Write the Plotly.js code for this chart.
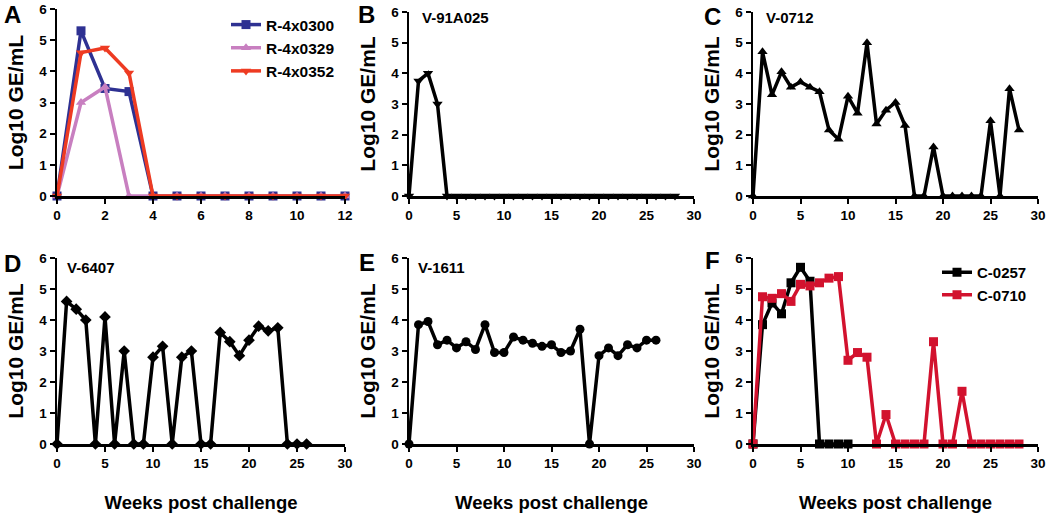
<!DOCTYPE html>
<html>
<head>
<meta charset="utf-8">
<script src="https://cdn.plot.ly/plotly-3.0.1.min.js"></script>
<style>
  body { margin: 0; background: white; }
  #graph { width: 1050px; height: 513px; }
</style>
</head>
<body>
<div id="graph"></div>
<script>
// weeks post challenge
var weeksA = [0,1,2,3,4,5,6,7,8,9,10,11,12];
var weeks28 = [];
for (var i = 0; i <= 28; i++) weeks28.push(i);
var weeks26 = weeks28.slice(0, 27);
var weeks10 = weeks28.slice(0, 11);

// panel A, three rhesus animals
var r0300 = [0,5.3,3.45,3.35,0,0,0,0,0,0,0,0,0];
var r0329 = [0,3.0,3.5,0,0,0,0,0,0,0,0,0,0];
var r0352 = [0,4.6,4.75,3.95,0,0,0,0,0,0,0,0,0];

// panel B
var v91a025 = [0,3.75,4.0,3.0,0,0,0,0,0,0,0,0,0,0,0,0,0,0,0,0,0,0,0,0,0,0,0,0,0];
// panel C
var v0712 = [0,4.7,3.3,4.05,3.55,3.72,3.55,3.4,2.15,1.85,3.25,2.7,5.0,2.35,2.8,3.05,2.3,0,0,1.6,0,0,0,0,0,2.45,0,3.5,2.15];
// panel D
var v6407 = [0,4.6,4.35,4.0,0,4.1,0,3.0,0,0,2.8,3.15,0,2.8,3.0,0,0,3.6,3.3,2.85,3.35,3.8,3.65,3.75,0,0,0];
// panel E
var v1611 = [0,3.85,3.95,3.2,3.35,3.1,3.3,3.05,3.85,2.95,2.95,3.45,3.35,3.25,3.15,3.2,2.95,3.0,3.7,0,2.85,3.1,2.85,3.2,3.1,3.35,3.35];
// panel F, controls
var c0257 = [0,3.85,4.55,4.2,5.2,5.7,5.25,0,0,0,0];
var c0710 = [0,4.75,4.7,4.85,4.6,5.15,5.1,5.2,5.35,5.4,2.7,2.95,2.8,0,0.95,0,0,0,0,3.3,0,0,1.7,0,0,0,0,0,0];

var fnt = 'Liberation Sans, Arial, sans-serif';

function tr(x, y, xa, ya, color, symbol, name, legend) {
  return {
    x: x, y: y, xaxis: xa, yaxis: ya,
    mode: 'lines+markers',
    line: {color: color, width: 3.5},
    marker: {color: color, symbol: symbol, size: 9},
    cliponaxis: false,
    name: name,
    showlegend: !!legend,
    legend: legend || 'legend'
  };
}

var data = [
  tr(weeksA, r0300, 'x', 'y', '#2e3192', 'square', 'R-4x0300', 'legend'),
  tr(weeksA, r0329, 'x', 'y', '#c87fc0', 'triangle-up', 'R-4x0329', 'legend'),
  tr(weeksA, r0352, 'x', 'y', '#ee3b22', 'triangle-down', 'R-4x0352', 'legend'),
  tr(weeks28, v91a025, 'x2', 'y2', '#000', 'triangle-down', 'V-91A025'),
  tr(weeks28, v0712, 'x3', 'y3', '#000', 'triangle-up', 'V-0712'),
  tr(weeks26, v6407, 'x4', 'y4', '#000', 'diamond', 'V-6407'),
  tr(weeks26, v1611, 'x5', 'y5', '#000', 'circle', 'V-1611'),
  tr(weeks10, c0257, 'x6', 'y6', '#000', 'square', 'C-0257', 'legend2'),
  tr(weeks28, c0710, 'x6', 'y6', '#d2122e', 'square', 'C-0710', 'legend2')
];

var W = 1050, H = 513;
function px(a) { return a / W; }
function py(b) { return 1 - b / H; }

var xdom = [[57, 345], [409, 694], [753, 1038]];
var ydomA = [9, 196], ydomBC = [12, 196], ydomBot = [258, 444];

function xax(d, range, dt, anchor, title) {
  return {
    domain: [px(d[0]), px(d[1])], range: range, dtick: dt, anchor: anchor,
    showline: true, linecolor: '#000', linewidth: 2.5,
    ticks: 'outside', ticklen: 5, tickwidth: 2, tickcolor: '#000',
    showgrid: false, zeroline: false, fixedrange: true,
    tickfont: {family: fnt, size: 13.5, color: '#000', weight: 'bold'},
    title: title ? {text: title, standoff: 30, font: {family: fnt, size: 18.5, color: '#000', weight: 'bold'}} : undefined
  };
}
function yax(d, anchor) {
  return {
    domain: [py(d[1]), py(d[0])], range: [0, 6], dtick: 1, anchor: anchor,
    showline: true, linecolor: '#000', linewidth: 2.5,
    ticks: 'outside', ticklen: 5, tickwidth: 2, tickcolor: '#000',
    showgrid: false, zeroline: false, fixedrange: true,
    tickfont: {family: fnt, size: 13.5, color: '#000', weight: 'bold'},
    title: {text: 'Log10 GE/mL', standoff: 10, font: {family: fnt, size: 21, color: '#000', weight: 'bold'}}
  };
}

var layout = {
  width: W, height: H,
  margin: {l: 0, r: 0, t: 0, b: 0},
  paper_bgcolor: 'white', plot_bgcolor: 'white',
  showlegend: true,
  xaxis: xax(xdom[0], [0, 12], 2, 'y'),
  yaxis: yax(ydomA, 'x'),
  xaxis2: xax(xdom[1], [0, 30], 5, 'y2'),
  yaxis2: yax(ydomBC, 'x2'),
  xaxis3: xax(xdom[2], [0, 30], 5, 'y3'),
  yaxis3: yax(ydomBC, 'x3'),
  xaxis4: xax(xdom[0], [0, 30], 5, 'y4', 'Weeks post challenge'),
  yaxis4: yax(ydomBot, 'x4'),
  xaxis5: xax(xdom[1], [0, 30], 5, 'y5', 'Weeks post challenge'),
  yaxis5: yax(ydomBot, 'x5'),
  xaxis6: xax(xdom[2], [0, 30], 5, 'y6', 'Weeks post challenge'),
  yaxis6: yax(ydomBot, 'x6'),
  legend: {
    x: px(226), y: py(8), xanchor: 'left', yanchor: 'top',
    bgcolor: 'rgba(0,0,0,0)', tracegroupgap: 0, itemwidth: 30,
    font: {family: fnt, size: 15.5, color: '#000', weight: 'bold'}
  },
  legend2: {
    x: px(937), y: py(256), xanchor: 'left', yanchor: 'top',
    bgcolor: 'rgba(0,0,0,0)', tracegroupgap: 0, itemwidth: 30,
    font: {family: fnt, size: 15, color: '#000', weight: 'bold'}
  },
  annotations: []
};

// panel letters and animal labels
var letters = [['A', 12, 15], ['B', 366, 15], ['C', 712, 16], ['D', 12, 263], ['E', 367, 262], ['F', 712, 260]];
letters.forEach(function (l) {
  layout.annotations.push({text: l[0], xref: 'paper', yref: 'paper', x: px(l[1]), y: py(l[2]),
    xanchor: 'center', yanchor: 'middle', showarrow: false,
    font: {family: fnt, size: 24, color: '#000', weight: 'bold'}});
});
var names = [['V-91A025', 420, 17], ['V-0712', 764, 17], ['V-6407', 65, 267], ['V-1611', 416, 267]];
names.forEach(function (n) {
  layout.annotations.push({text: n[0], xref: 'paper', yref: 'paper', x: px(n[1]), y: py(n[2]),
    xanchor: 'left', yanchor: 'middle', showarrow: false,
    font: {family: fnt, size: 15, color: '#000', weight: 'bold'}});
});

Plotly.newPlot('graph', data, layout, {staticPlot: true});
</script>
</body>
</html>
